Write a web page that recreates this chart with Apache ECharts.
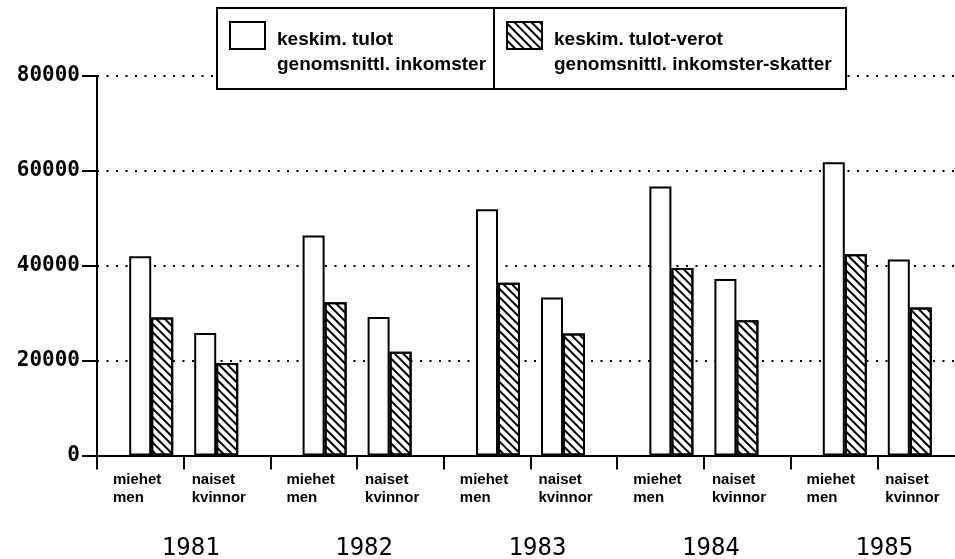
<!DOCTYPE html>
<html>
<head>
<meta charset="utf-8">
<script src="https://cdn.jsdelivr.net/npm/echarts@6/dist/echarts.min.js"></script>
<style>
  html, body { margin: 0; padding: 0; background: #fff; }
  #chart { width: 955px; height: 559px; }
</style>
</head>
<body>
<div id="chart"></div>
<script>
const years = ['1981', '1982', '1983', '1984', '1985']
const groups = ['miehet\nmen', 'naiset\nkvinnor']
const incomeName = 'keskim. tulot\ngenomsnittl. inkomster'
const netName = 'keskim. tulot-verot\ngenomsnittl. inkomster-skatter'

const menIncome = [42000, 46400, 51900, 56700, 61800]
const menNet = [29100, 32300, 36400, 39550, 42400]
const womenIncome = [25800, 29200, 33300, 37200, 41300]
const womenNet = [19500, 21850, 25700, 28500, 31200]

const yMin = 0
const yMax = 80000
const yStep = 20000

// one label per group under each year, plus an empty end point for the last tick
const groupLabels = years.flatMap(() => groups).concat([''])

const sans = "'Liberation Sans', Arial, sans-serif"
const mono = "'DejaVu Sans Mono', monospace"

const plain = { color: '#fff', borderColor: '#000', borderWidth: 2 }
const hatched = {
  color: '#fff',
  borderColor: '#000',
  borderWidth: 2,
  decal: { symbol: 'rect', symbolSize: 1, color: '#000', backgroundColor: null, dashArrayX: [1, 0], dashArrayY: [2, 3.8], rotation: Math.PI / 4 },
}

const legendText = { fontFamily: sans, fontWeight: 'bold', fontSize: 19, lineHeight: 25, color: '#000' }

// the legend centres text on the icon, so an empty first line pushes the two text lines down
const legendBox = (name, left, textWidth, padRight) => ({
  data: [name],
  left,
  top: 8,
  icon: 'rect',
  itemWidth: 35,
  itemHeight: 27,
  selectedMode: false,
  padding: [-14.5, padRight, 11.5, 12],
  backgroundColor: '#fff',
  borderColor: '#000',
  borderWidth: 2,
  borderRadius: 0,
  itemStyle: { borderColor: '#000', borderWidth: 2 },
  formatter: (n) => '{s| }\n' + n.split('\n').map((line) => `{t|${line}}`).join('\n'),
  textStyle: {
    ...legendText,
    width: textWidth,
    padding: [0, 0, 0, 7],
    rich: { s: { fontSize: 10, lineHeight: 34 }, t: legendText },
  },
})

const bar = (name, data, style) => ({
  name,
  type: 'bar',
  xAxisIndex: 0,
  data,
  barWidth: 22,
  barGap: '0%',
  itemStyle: style,
  emphasis: { disabled: true },
})

const groupText = { fontFamily: sans, fontWeight: 'bold', fontSize: 15, lineHeight: 18, color: '#000' }

const chart = echarts.init(document.getElementById('chart'))
chart.setOption({
  animation: false,
  backgroundColor: '#fff',
  grid: { left: 97, right: -9, top: 76, bottom: 103.5, outerBoundsMode: 'none' },
  legend: [legendBox(incomeName, 217, 214, 4), legendBox(netName, 494, 286, 6)],
  xAxis: [
    {
      type: 'category',
      data: years,
      position: 'bottom',
      axisLine: { show: false },
      axisTick: { show: false },
      axisLabel: {
        interval: 0,
        margin: 81,
        color: '#000',
        fontFamily: mono,
        fontSize: 24,
        formatter: (v) => `{y|${v}}`,
        rich: { y: { fontFamily: mono, fontSize: 24, color: '#000', padding: [0, 0, 0, 14] } },
      },
    },
    {
      type: 'category',
      data: groupLabels,
      position: 'bottom',
      boundaryGap: false,
      axisLine: { lineStyle: { color: '#000', width: 2 } },
      axisTick: { interval: 0, length: 14, lineStyle: { color: '#000', width: 2 } },
      axisLabel: {
        interval: 0,
        margin: 15,
        align: 'left',
        color: '#000',
        formatter: (v, i) => v ? (i % 2 ? `{w|${v}}` : `{m|${v}}`) : '',
        rich: {
          m: { ...groupText, padding: [0, 0, 0, 16] },
          w: { ...groupText, padding: [0, 0, 0, 8] },
        },
      },
    },
  ],
  yAxis: {
    type: 'value',
    min: yMin,
    max: yMax,
    interval: yStep,
    axisLine: { show: true, lineStyle: { color: '#000', width: 2 } },
    axisTick: { show: true, length: 15, lineStyle: { color: '#000', width: 2 } },
    axisLabel: { margin: 17, color: '#000', fontFamily: mono, fontWeight: 'bold', fontSize: 21, formatter: (v) => String(v) },
    splitLine: { lineStyle: { color: '#000', width: 2, type: [2, 7.5] } },
  },
  series: [
    bar(incomeName, menIncome, plain),
    bar(netName, menNet, hatched),
    { name: 'gap', type: 'bar', xAxisIndex: 0, data: [], barWidth: 21, barGap: '0%' },
    bar(incomeName, womenIncome, plain),
    bar(netName, womenNet, hatched),
  ],
})
</script>
</body>
</html>
